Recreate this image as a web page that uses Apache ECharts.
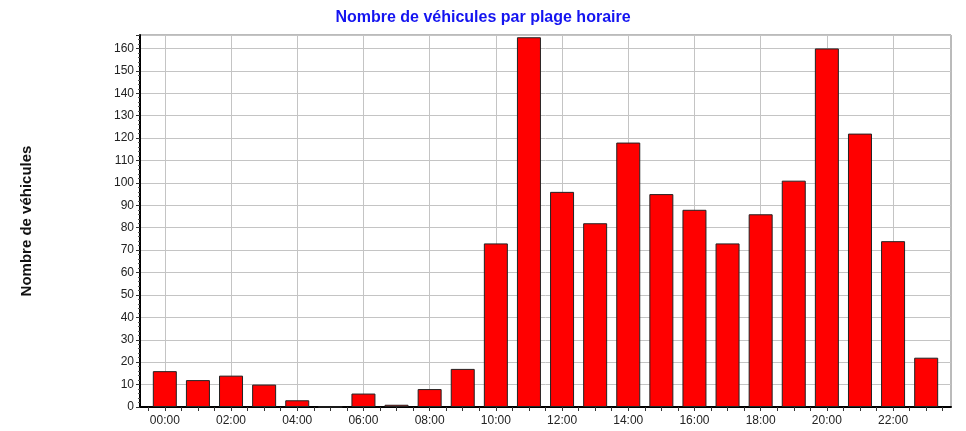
<!DOCTYPE html>
<html>
<head>
<meta charset="utf-8">
<script src="https://cdn.jsdelivr.net/npm/echarts@6/dist/echarts.min.js"></script>
<style>
  html, body { margin: 0; padding: 0; background: #fff; }
  #chart { width: 966px; height: 431px; }
</style>
</head>
<body>
<div id="chart"></div>
<script>
var hours = ["00:00", "01:00", "02:00", "03:00", "04:00", "05:00", "06:00", "07:00",
  "08:00", "09:00", "10:00", "11:00", "12:00", "13:00", "14:00", "15:00",
  "16:00", "17:00", "18:00", "19:00", "20:00", "21:00", "22:00", "23:00"];
var counts = [16, 12, 14, 10, 3, 0, 6, 1, 8, 17, 73, 165, 96, 82, 118, 95, 88, 73, 86, 101, 160, 122, 74, 22];
var labelIdx = [0, 2, 4, 6, 8, 10, 12, 14, 16, 18, 20, 22];

var tickPos = [];
for (var i = 0; i < hours.length; i++) {
  tickPos.push(i - 0.5, i);
}
tickPos.push(hours.length - 0.5);

var myChart = echarts.init(document.getElementById("chart"));
var font = "Liberation Sans";
var option = {
  animation: false,
  title: {
    text: "Nombre de véhicules par plage horaire",
    left: "center",
    top: 5,
    textStyle: { color: "#1414f0", fontSize: 16, fontWeight: "bold", fontFamily: font }
  },
  grid: {
    left: 140,
    right: 15,
    top: 35,
    bottom: 24,
    show: true,
    borderColor: "#777",
    borderWidth: 1
  },
  xAxis: [
    {
      type: "value",
      min: -0.75,
      max: 23.75,
      position: "bottom",
      axisLine: { show: true, onZero: false, lineStyle: { color: "#000", width: 2 } },
      axisTick: { show: true, customValues: tickPos, length: 4, lineStyle: { color: "#333" } },
      axisLabel: {
        customValues: labelIdx,
        margin: 8,
        color: "#222",
        fontSize: 12,
        fontFamily: font,
        formatter: function (v) { return hours[Math.round(v)]; }
      },
      splitLine: { show: false }
    },
    {
      type: "value",
      min: -0.75,
      max: 23.75,
      position: "bottom",
      axisLine: { show: false },
      axisTick: { show: false, customValues: labelIdx },
      axisLabel: { show: false, customValues: labelIdx },
      splitLine: { show: true, lineStyle: { color: "#c4c4c4", width: 1 } }
    }
  ],
  yAxis: {
    type: "value",
    min: 0,
    max: 166,
    interval: 10,
    name: "Nombre de véhicules",
    nameLocation: "middle",
    nameRotate: 90,
    nameGap: 106,
    nameTextStyle: { color: "#111", fontSize: 15, fontWeight: "bold", fontFamily: font },
    axisLine: { show: true, onZero: false, lineStyle: { color: "#000", width: 2 } },
    axisTick: { show: true, length: 4, lineStyle: { color: "#333" } },
    minorTick: { show: true, splitNumber: 5, length: 2, lineStyle: { color: "#555" } },
    axisLabel: { color: "#222", fontSize: 12, fontFamily: font, margin: 6, showMaxLabel: false },
    splitLine: { show: true, lineStyle: { color: "#c4c4c4", width: 1 } }
  },
  series: [
    {
      name: "Véhicules",
      type: "bar",
      xAxisIndex: 0,
      barWidth: 24,
      z: 3,
      itemStyle: { color: "#ff0000", borderColor: "#222", borderWidth: 1 },
      data: counts.map(function (v, i) { return [i, v]; })
    }
  ]
};
myChart.setOption(option);
</script>
</body>
</html>
